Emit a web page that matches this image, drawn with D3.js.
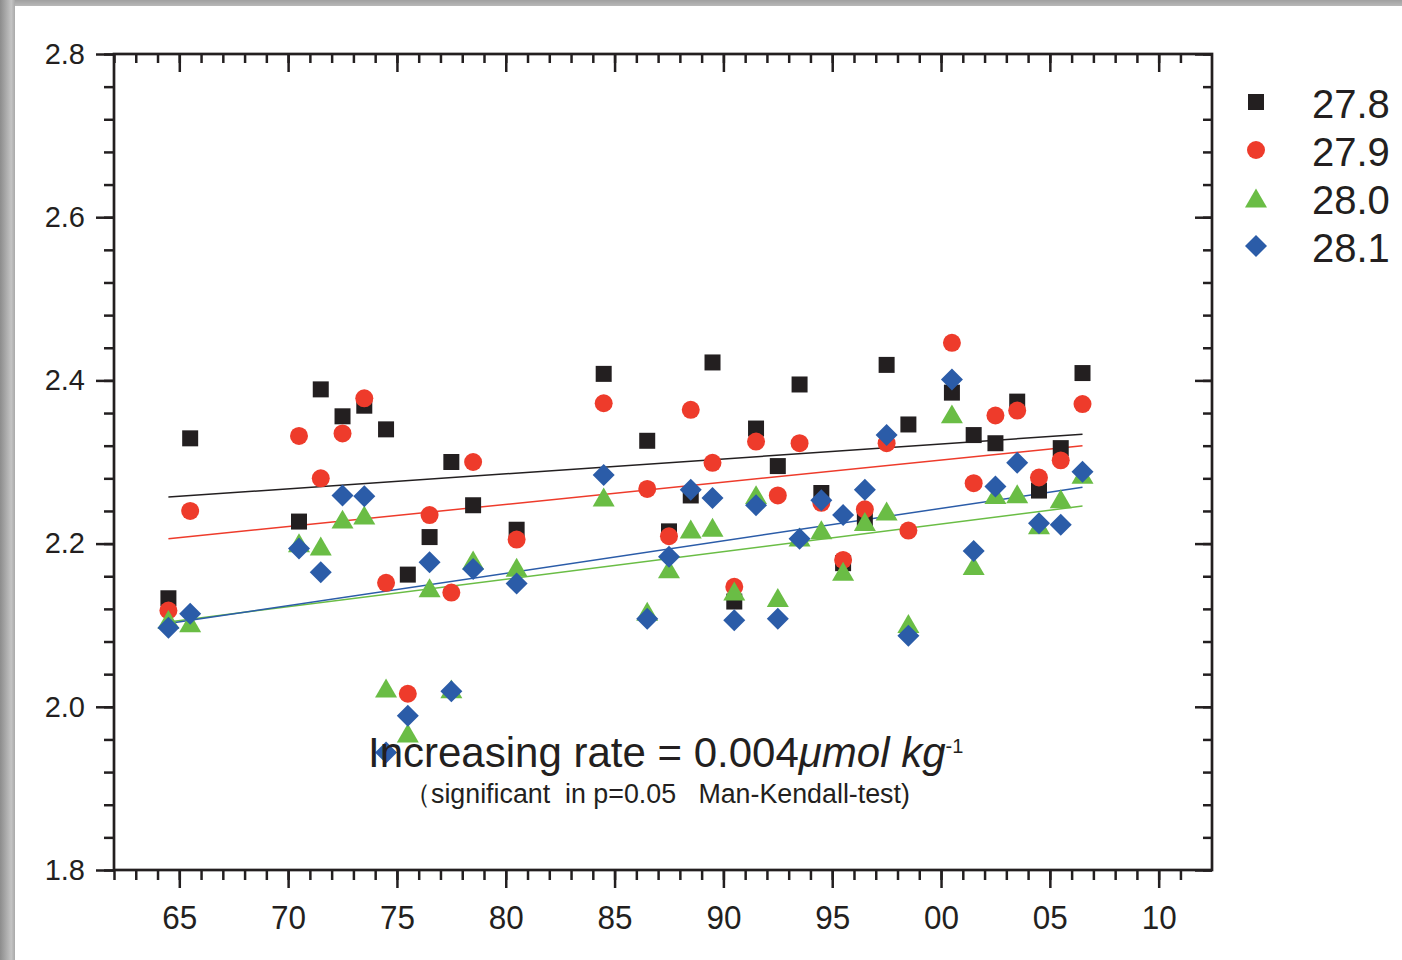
<!DOCTYPE html>
<html>
<head>
<meta charset="utf-8">
<script src="https://cdn.jsdelivr.net/npm/d3@7"></script>
<style>
  body { margin: 0; background: #fff; }
  svg { display: block; }
</style>
</head>
<body>
<div id="vis"></div>
<script>
// sample years (points sit at mid-year)
let years = [1964, 1965, 1970, 1971, 1972, 1973, 1974, 1975, 1976, 1977, 1978, 1980,
  1984, 1986, 1987, 1988, 1989, 1990, 1991, 1992, 1993, 1994, 1995, 1996, 1997, 1998,
  2000, 2001, 2002, 2003, 2004, 2005, 2006];

// one array per density surface
let s278 = [2.133, 2.329, 2.227, 2.389, 2.356, 2.369, 2.340, 2.162, 2.208, 2.300, 2.247, 2.217,
  2.408, 2.326, 2.215, 2.259, 2.422, 2.129, 2.341, 2.295, 2.395, 2.262, 2.176, 2.231, 2.419, 2.346,
  2.385, 2.333, 2.323, 2.374, 2.265, 2.317, 2.409];
let s279 = [2.118, 2.240, 2.332, 2.280, 2.335, 2.378, 2.152, 2.016, 2.235, 2.140, 2.300, 2.205,
  2.372, 2.267, 2.209, 2.364, 2.299, 2.147, 2.325, 2.259, 2.323, 2.250, 2.180, 2.242, 2.323, 2.216,
  2.446, 2.274, 2.357, 2.363, 2.281, 2.302, 2.371];
let s280 = [2.107, 2.103, 2.201, 2.197, 2.230, 2.235, 2.023, 1.968, 2.146, 2.022, 2.180, 2.171,
  2.257, 2.117, 2.169, 2.218, 2.220, 2.142, 2.260, 2.134, 2.208, 2.217, 2.166, 2.227, 2.240, 2.102,
  2.359, 2.173, 2.260, 2.261, 2.223, 2.255, 2.285];
let s281 = [2.097, 2.114, 2.194, 2.165, 2.259, 2.258, 1.944, 1.989, 2.177, 2.019, 2.169, 2.151,
  2.284, 2.108, 2.184, 2.266, 2.256, 2.106, 2.247, 2.108, 2.206, 2.253, 2.235, 2.266, 2.333, 2.087,
  2.401, 2.191, 2.270, 2.299, 2.225, 2.223, 2.288];

let seriesNames = ['27.8', '27.9', '28.0', '28.1'];
let seriesValues = [s278, s279, s280, s281];

// linear trend end points (1964.5 and 2006.5)
let trendYears = [1964.5, 2006.5];
let trendStart = [2.257, 2.206, 2.104, 2.102];
let trendEnd = [2.334, 2.320, 2.246, 2.269];

// axis ticks
let xMajorYears = [1965, 1970, 1975, 1980, 1985, 1990, 1995, 2000, 2005, 2010];
let xTickLabels = ['65', '70', '75', '80', '85', '90', '95', '00', '05', '10'];
let yMajorValues = [1.8, 2.0, 2.2, 2.4, 2.6, 2.8];
let yTickLabels = ['1.8', '2.0', '2.2', '2.4', '2.6', '2.8'];

let colors = ['#231f20', '#ee3b2b', '#6abd45', '#2b5ca8'];
let ink = '#231f20';
let font = '"Liberation Sans", Arial, sans-serif';

let margin = { top: 54, left: 114, right: 190, bottom: 90 },
  width = 1402 - margin.left - margin.right,
  height = 960 - margin.top - margin.bottom;

let svg = d3.select('#vis')
  .append('svg')
  .attr('width', 1402)
  .attr('height', 960)
  .style('background-color', 'white');

// grey page edge (top and left)
let defs = svg.append('defs');
let gl = defs.append('linearGradient').attr('id', 'edgeL').attr('x1', 0).attr('x2', 1).attr('y1', 0).attr('y2', 0);
gl.append('stop').attr('offset', 0).attr('stop-color', '#8c8c8c');
gl.append('stop').attr('offset', 0.75).attr('stop-color', '#c4c4c4');
gl.append('stop').attr('offset', 1).attr('stop-color', '#a9a9a9');
let gt = defs.append('linearGradient').attr('id', 'edgeT').attr('x1', 0).attr('x2', 0).attr('y1', 0).attr('y2', 1);
gt.append('stop').attr('offset', 0).attr('stop-color', '#a0a0a0');
gt.append('stop').attr('offset', 1).attr('stop-color', '#b8b8b8');
svg.append('rect').attr('x', 0).attr('y', 0).attr('width', 1402).attr('height', 6).attr('fill', 'url(#edgeT)');
svg.append('rect').attr('x', 0).attr('y', 0).attr('width', 15).attr('height', 960).attr('fill', 'url(#edgeL)');

let g = svg.append('g').attr('transform', `translate(${margin.left},${margin.top})`);

let x = d3.scaleLinear().domain([1962, 2012.45]).range([0, width]);
let y = d3.scaleLinear().domain([1.8, 2.8]).range([height, 0]);

let minorYears = d3.range(1962, 2012);
let minorY = d3.range(0, 26).map(i => +(1.8 + i * 0.04).toFixed(2));

// style helper for tick groups
function styleAxis(sel) {
  sel.select('.domain').remove();
  sel.selectAll('line').attr('stroke', ink).attr('stroke-width', 2.5);
  sel.selectAll('text').attr('fill', ink).style('font-family', font);
}

// bottom axis: ticks outward
g.append('g').attr('transform', `translate(0,${height})`)
  .call(d3.axisBottom(x).tickValues(minorYears).tickSize(10).tickFormat(''))
  .call(styleAxis);
g.append('g').attr('transform', `translate(0,${height})`)
  .call(d3.axisBottom(x).tickValues(xMajorYears).tickSize(18).tickPadding(17)
    .tickFormat((d, i) => xTickLabels[i]))
  .call(styleAxis)
  .call(a => a.selectAll('text').style('font-size', '34px')
    .attr('textLength', 35).attr('lengthAdjust', 'spacingAndGlyphs'));

// top axis: ticks inward
g.append('g')
  .call(d3.axisBottom(x).tickValues(minorYears).tickSize(9).tickFormat(''))
  .call(styleAxis);
g.append('g')
  .call(d3.axisBottom(x).tickValues(xMajorYears).tickSize(18).tickFormat(''))
  .call(styleAxis);

// left axis: ticks outward
g.append('g')
  .call(d3.axisLeft(y).tickValues(minorY).tickSize(10).tickFormat(''))
  .call(styleAxis);
g.append('g')
  .call(d3.axisLeft(y).tickValues(yMajorValues).tickSize(18).tickPadding(11)
    .tickFormat((d, i) => yTickLabels[i]))
  .call(styleAxis)
  .call(a => a.selectAll('text').style('font-size', '29px'));

// right axis: ticks inward
g.append('g').attr('transform', `translate(${width},0)`)
  .call(d3.axisLeft(y).tickValues(minorY).tickSize(9).tickFormat(''))
  .call(styleAxis);
g.append('g').attr('transform', `translate(${width},0)`)
  .call(d3.axisLeft(y).tickValues(yMajorValues).tickSize(17).tickFormat(''))
  .call(styleAxis);

// frame
g.append('rect')
  .attr('width', width)
  .attr('height', height)
  .attr('fill', 'none')
  .attr('stroke', ink)
  .attr('stroke-width', 2.7);

// trend lines
let line = d3.line().x(d => x(d[0])).y(d => y(d[1]));
seriesNames.forEach((name, i) => {
  g.append('path')
    .datum([[trendYears[0], trendStart[i]], [trendYears[1], trendEnd[i]]])
    .attr('d', line)
    .attr('fill', 'none')
    .attr('stroke', colors[i])
    .attr('stroke-width', 1.5);
});

// marker shapes
let triangle = {
  draw(ctx, size) {
    let w = Math.sqrt(size * 4 / Math.sqrt(3)), h = w * 0.86;
    ctx.moveTo(0, -h / 2); ctx.lineTo(w / 2, h / 2); ctx.lineTo(-w / 2, h / 2); ctx.closePath();
  }
};
let diamond = {
  draw(ctx, size) {
    let r = Math.sqrt(size) / 2;
    ctx.moveTo(0, -r); ctx.lineTo(r, 0); ctx.lineTo(0, r); ctx.lineTo(-r, 0); ctx.closePath();
  }
};
let shapes = [
  d3.symbol().type(d3.symbolSquare).size(256),
  d3.symbol().type(d3.symbolCircle).size(254),
  d3.symbol().type(triangle).size(210),
  d3.symbol().type(diamond).size(484)
];

seriesValues.forEach((vals, i) => {
  g.append('g').selectAll('path')
    .data(vals.map((v, j) => [years[j] + 0.5, v]))
    .join('path')
    .attr('transform', d => `translate(${x(d[0])},${y(d[1])})`)
    .attr('d', shapes[i]())
    .attr('fill', colors[i]);
});

// legend
let legend = svg.append('g').attr('transform', 'translate(1256,102)');
seriesNames.forEach((name, i) => {
  let row = legend.append('g').attr('transform', `translate(0,${i * 48})`);
  row.append('path').attr('d', shapes[i]()).attr('fill', colors[i]);
  row.append('text')
    .attr('x', 56)
    .attr('y', 16)
    .attr('fill', ink)
    .style('font-family', font)
    .style('font-size', '40px')
    .text(name);
});

// annotation
let note = svg.append('text')
  .attr('x', 368)
  .attr('y', 767)
  .attr('fill', ink)
  .style('font-family', font)
  .style('font-size', '42px');
note.append('tspan').text('Increasing rate = 0.004');
note.append('tspan').style('font-style', 'italic').text('μmol kg');
note.append('tspan').attr('dy', -14).style('font-size', '20px').text('-1');

svg.append('text')
  .attr('x', 404)
  .attr('y', 803)
  .attr('fill', ink)
  .attr('xml:space', 'preserve')
  .style('white-space', 'pre')
  .style('font-family', font)
  .style('font-size', '26.8px')
  .text('（significant  in p=0.05   Man-Kendall-test)');
</script>
</body>
</html>
